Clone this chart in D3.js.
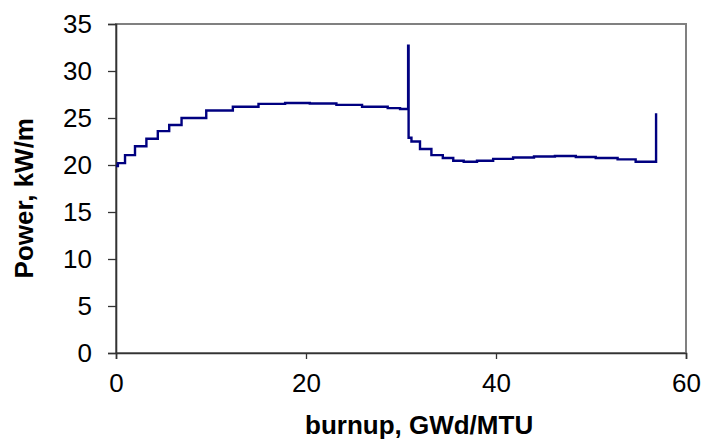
<!DOCTYPE html>
<html>
<head>
<meta charset="utf-8">
<script src="https://cdn.jsdelivr.net/npm/d3@7"></script>
<style>
  body { margin: 0; background: #fff; }
  text { font-family: "Liberation Sans", Arial, sans-serif; }
</style>
</head>
<body>
<div id="chart"></div>
<script>
// step points: burnup (GWd/MTU) where each power level starts
var burnup = [0, 0.2, 0.95, 2.0, 3.2, 4.4, 5.6, 6.9, 9.5, 12.3, 15.0, 17.8, 20.4, 23.2, 25.9, 28.6, 29.9,
              30.75, 30.8, 31.1, 32.0, 33.2, 34.4, 35.5, 36.6, 38.0, 39.7, 41.8, 44.0, 46.2, 48.4, 50.5, 52.8, 54.7, 56.85];
var power  = [19.9, 20.2, 21.05, 22.0, 22.8, 23.6, 24.25, 25.0, 25.8, 26.2, 26.5, 26.6, 26.55, 26.4, 26.2, 26.05, 25.95,
              32.7, 22.9, 22.5, 21.7, 21.05, 20.75, 20.45, 20.35, 20.45, 20.65, 20.8, 20.9, 20.95, 20.85, 20.75, 20.6, 20.35, 25.5];
var xTicks = [0, 20, 40, 60];
var yTicks = [0, 5, 10, 15, 20, 25, 30, 35];

var w = 702, h = 441;
var mLeft = 116, mRight = 686, mTop = 24, mBottom = 353;

var svg = d3.select("#chart").append("svg")
    .attr("width", w)
    .attr("height", h);

var x = d3.scaleLinear().domain([0, 60]).range([mLeft, mRight]);
var y = d3.scaleLinear().domain([0, 35]).range([mBottom, mTop]);

// plot area border
svg.append("rect")
    .attr("x", mLeft).attr("y", mTop)
    .attr("width", mRight - mLeft).attr("height", mBottom - mTop)
    .attr("fill", "none")
    .attr("stroke", "#808080")
    .attr("stroke-width", 2);

var xAxis = svg.append("g")
    .attr("transform", "translate(0," + mBottom + ")")
    .call(d3.axisBottom(x).tickValues(xTicks).tickSize(6).tickPadding(15));

var yAxis = svg.append("g")
    .attr("transform", "translate(" + mLeft + ",0)")
    .call(d3.axisLeft(y).tickValues(yTicks).tickSize(8).tickPadding(16));

[xAxis, yAxis].forEach(function (g) {
    g.select(".domain").attr("stroke", "#333").attr("stroke-width", 1.6);
    g.selectAll(".tick line").attr("stroke", "#333").attr("stroke-width", 1.3);
    g.selectAll(".tick text")
        .attr("fill", "#000")
        .style("font-size", "26px")
        .style("font-family", "'Liberation Sans', Arial, sans-serif");
});

var pts = burnup.map(function (b, i) { return [b, power[i]]; });

var line = d3.line()
    .x(function (d) { return x(d[0]); })
    .y(function (d) { return y(d[1]); })
    .curve(d3.curveStepAfter);

svg.append("path")
    .datum(pts)
    .attr("d", line)
    .attr("fill", "none")
    .attr("stroke", "#000080")
    .attr("stroke-width", 2.4);

// axis titles
svg.append("text")
    .attr("x", 305)
    .attr("y", 434)
    .attr("text-anchor", "start")
    .style("font-size", "26px")
    .style("font-weight", "bold")
    .text("burnup, GWd/MTU");

svg.append("text")
    .attr("transform", "translate(33,118) rotate(-90)")
    .attr("text-anchor", "end")
    .style("font-size", "26px")
    .style("font-weight", "bold")
    .text("Power, kW/m");
</script>
</body>
</html>
